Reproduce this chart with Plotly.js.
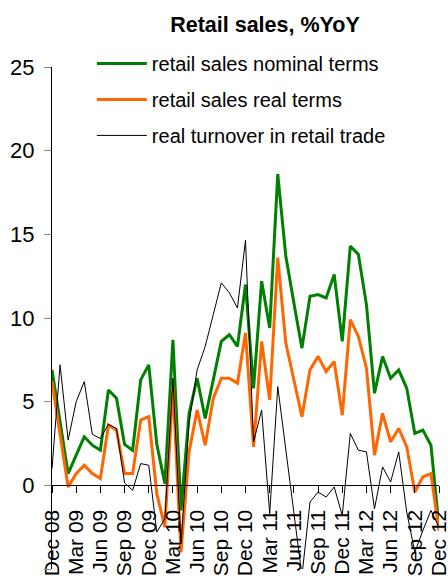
<!DOCTYPE html>
<html>
<head>
<meta charset="utf-8">
<script src="https://cdn.plot.ly/plotly-3.0.1.min.js"></script>
<style>html,body{margin:0;padding:0;background:#fff;}#chart{width:448px;height:576px;}</style>
</head>
<body>
<div id="chart"></div>
<script>
const months = ['Dec 08','Jan 09','Feb 09','Mar 09','Apr 09','May 09','Jun 09','Jul 09','Aug 09','Sep 09','Oct 09','Nov 09',
  'Dec 09','Jan 10','Feb 10','Mar 10','Apr 10','May 10','Jun 10','Jul 10','Aug 10','Sep 10','Oct 10','Nov 10',
  'Dec 10','Jan 11','Feb 11','Mar 11','Apr 11','May 11','Jun 11','Jul 11','Aug 11','Sep 11','Oct 11','Nov 11',
  'Dec 11','Jan 12','Feb 12','Mar 12','Apr 12','May 12','Jun 12','Jul 12','Aug 12','Sep 12','Oct 12','Nov 12','Dec 12'];

const nominal = [6.9,3.8,0.7,1.8,2.9,2.4,2.1,5.7,5.2,2.45,2.1,6.3,
  7.2,2.45,0.1,8.7,-1.5,4.3,6.4,4.0,6.3,8.6,9.0,8.3,
  12.0,5.8,12.2,9.4,18.6,13.7,10.9,8.2,11.3,11.4,11.2,12.6,
  8.6,14.3,13.8,10.8,5.5,7.7,6.4,6.9,5.8,3.1,3.3,2.4,-2.5];

const real = [6.2,3.0,-0.1,0.7,1.2,0.7,0.4,3.6,3.3,0.7,0.7,3.9,
  4.1,-0.5,-2.5,5.9,-4.0,2.0,4.5,2.4,5.2,6.4,6.4,6.1,
  9.1,2.3,8.6,5.1,13.6,8.5,6.3,4.1,6.9,7.7,6.8,7.4,
  4.2,9.9,8.9,7.0,1.8,4.3,2.6,3.4,2.3,-0.4,0.5,0.7,-2.7];

const turnover = [1.0,7.2,2.7,5.0,6.2,3.05,2.8,3.65,3.4,0.15,-0.3,1.3,
  1.2,-2.8,-2.0,6.4,-3.5,3.7,6.9,8.3,10.2,12.1,11.5,10.6,
  14.65,2.6,4.5,-1.7,5.9,2.2,-1.6,-5.4,-1.0,-0.4,-0.7,-0.1,
  -1.8,3.1,2.1,2.0,-1.4,1.1,0.2,2.0,-1.6,-4.0,-2.7,-1.5,-2.5];

const tickLabels = months.filter((m, i) => i % 3 === 0);
const yTicks = [-5, 0, 5, 10, 15, 20, 25];

const FONT = 'Liberation Sans, Arial, sans-serif';

const traces = [
  {x: months, y: nominal, name: 'retail sales nominal terms', type: 'scatter', mode: 'lines',
   line: {color: '#008000', width: 3}, legendgroup: 'a'},
  {x: months, y: real, name: 'retail sales real terms', type: 'scatter', mode: 'lines',
   line: {color: '#FF6600', width: 3}, legendgroup: 'b'},
  {x: months, y: turnover, name: 'real turnover in retail trade', type: 'scatter', mode: 'lines',
   line: {color: '#000000', width: 1}, legendgroup: 'c'}
];

const layout = {
  width: 448, height: 576,
  margin: {l: 52, r: 9, t: 67, b: 7},
  paper_bgcolor: '#fff', plot_bgcolor: '#fff',
  font: {family: FONT, color: '#000'},
  title: {text: 'Retail sales, %YoY', font: {family: FONT, size: 21.5, weight: 'bold', color: '#000'},
          xref: 'container', x: 0.5915, xanchor: 'center', yref: 'container', y: 0.957, yanchor: 'middle'},
  showlegend: true,
  legend: {x: 0.103, y: 1.046, xanchor: 'left', yanchor: 'top', bgcolor: 'rgba(0,0,0,0)', borderwidth: 0,
           font: {family: FONT, size: 20, color: '#000'}, itemwidth: 50, tracegroupgap: 7, traceorder: 'grouped'},
  xaxis: {type: 'category', range: [0, 48], anchor: 'free', position: 5/30,
          showline: true, linecolor: '#000', linewidth: 1, showgrid: false, zeroline: false,
          ticks: 'outside', ticklen: 7, tickcolor: '#000', tickwidth: 1, ticklabelstandoff: 8,
          tickmode: 'array', tickvals: tickLabels, ticktext: tickLabels, tickangle: -90,
          tickfont: {family: FONT, size: 21, color: '#000'}},
  yaxis: {range: [-5, 25], tickmode: 'array', tickvals: yTicks, showline: true, linecolor: '#000', linewidth: 1,
          showgrid: false, zeroline: false, ticks: 'outside', ticklen: 7, tickcolor: '#888', ticklabelstandoff: 5,
          tickfont: {family: FONT, size: 22, color: '#000'}}
};

Plotly.newPlot('chart', traces, layout, {displayModeBar: false, staticPlot: true});
</script>
</body>
</html>
